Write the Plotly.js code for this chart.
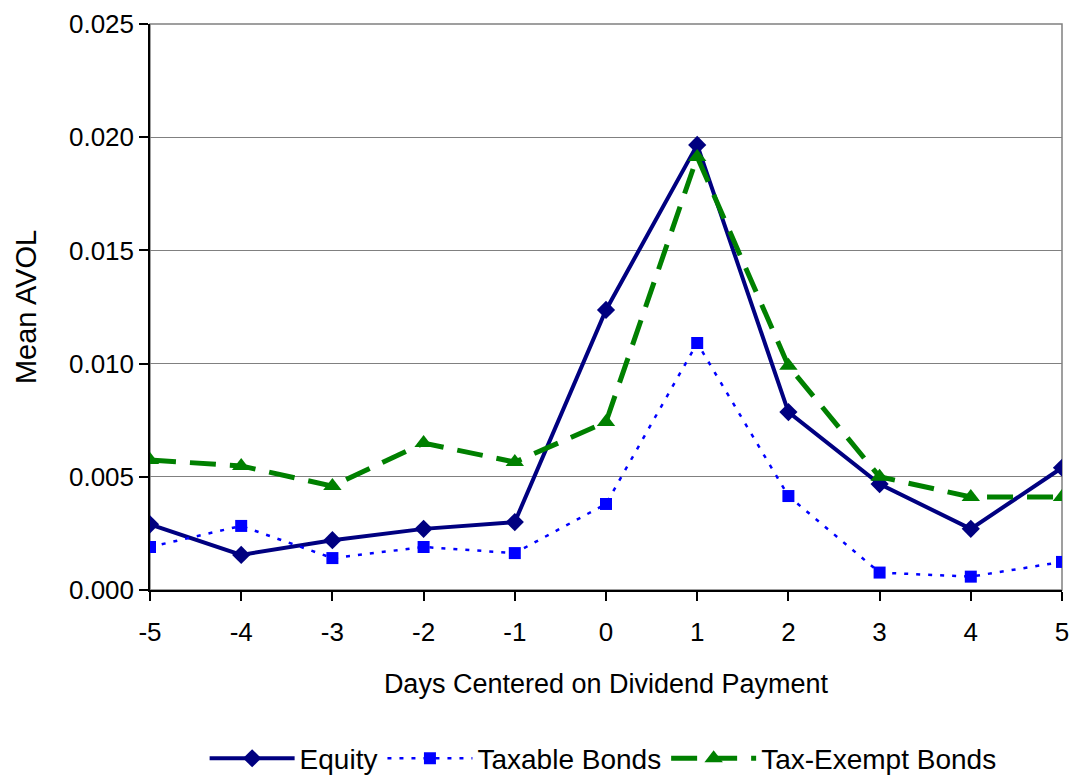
<!DOCTYPE html>
<html>
<head>
<meta charset="utf-8">
<script src="https://cdn.plot.ly/plotly-3.0.1.min.js"></script>
<style>html,body{margin:0;padding:0;background:#fff;}#chart{width:1077px;height:778px;}</style>
</head>
<body>
<div id="chart"></div>
<script>
const days = [-5, -4, -3, -2, -1, 0, 1, 2, 3, 4, 5];
const equity = [0.0029, 0.00155, 0.0022, 0.0027, 0.0030, 0.01237, 0.01966, 0.00786, 0.00468, 0.0027, 0.0054];
const taxableBonds = [0.0019, 0.00283, 0.00141, 0.0019, 0.00163, 0.0038, 0.01091, 0.00415, 0.00077, 0.00059, 0.00124];
const taxExemptBonds = [0.00574, 0.00548, 0.00459, 0.00649, 0.00565, 0.00742, 0.01913, 0.0099, 0.005, 0.00411, 0.00411];
const seriesNames = ["Equity", "Taxable Bonds", "Tax-Exempt Bonds"];
const yTicks = [0, 0.005, 0.010, 0.015, 0.020, 0.025];

const font = "Liberation Sans, Arial, sans-serif";
const traces = [
  {x: days, y: equity, name: seriesNames[0], mode: "lines+markers",
   line: {color: "#000080", width: 4}, marker: {symbol: "diamond", size: 14, color: "#000080"}},
  {x: days, y: taxableBonds, name: seriesNames[1], mode: "lines+markers",
   line: {color: "#0000ff", width: 2.5, dash: "4px,8px"}, marker: {symbol: "square", size: 12, color: "#0000ff"}},
  {x: days, y: taxExemptBonds, name: seriesNames[2], mode: "lines+markers",
   line: {color: "#008000", width: 5, dash: "26px,14px"}, marker: {symbol: "triangle-up", size: 16, color: "#008000"}}
];
const layout = {
  width: 1077, height: 778,
  margin: {l: 150, r: 15, t: 24, b: 188},
  paper_bgcolor: "#fff", plot_bgcolor: "#fff",
  font: {family: font, size: 26, color: "#000"},
  showlegend: true,
  legend: {orientation: "h", x: 0.56, xanchor: "center", xref: "container",
           y: 0.025, yanchor: "middle", yref: "container", itemwidth: 85,
           font: {family: font, size: 28}, tracegroupgap: 0},
  xaxis: {range: [-5, 5], tickmode: "array", tickvals: days, ticktext: days.map(String),
          automargin: false,
          showgrid: false, zeroline: false, showline: true, linecolor: "#000", linewidth: 1.5,
          ticks: "outside", ticklen: 9, tickcolor: "#000", tickwidth: 1.5, ticklabelstandoff: 9,
          tickfont: {family: font, size: 26},
          title: {text: "Days Centered on Dividend Payment", font: {family: font, size: 27}, standoff: 28}},
  yaxis: {range: [0, 0.025], tickmode: "array", tickvals: yTicks, ticktext: yTicks.map(v => v.toFixed(3)),
          automargin: false,
          showgrid: true, gridcolor: "#808080", gridwidth: 1, zeroline: false,
          showline: true, linecolor: "#000", linewidth: 1.5,
          ticks: "outside", ticklen: 9, tickcolor: "#000", tickwidth: 1.5,
          tickfont: {family: font, size: 26},
          title: {text: "Mean AVOL", font: {family: font, size: 29}, standoff: 24}},
  shapes: [{type: "rect", xref: "paper", yref: "paper", x0: 0, x1: 1, y0: 0, y1: 1,
            line: {color: "#808080", width: 1.5}, layer: "below"}]
};
Plotly.newPlot("chart", traces, layout, {displayModeBar: false});
</script>
</body>
</html>
